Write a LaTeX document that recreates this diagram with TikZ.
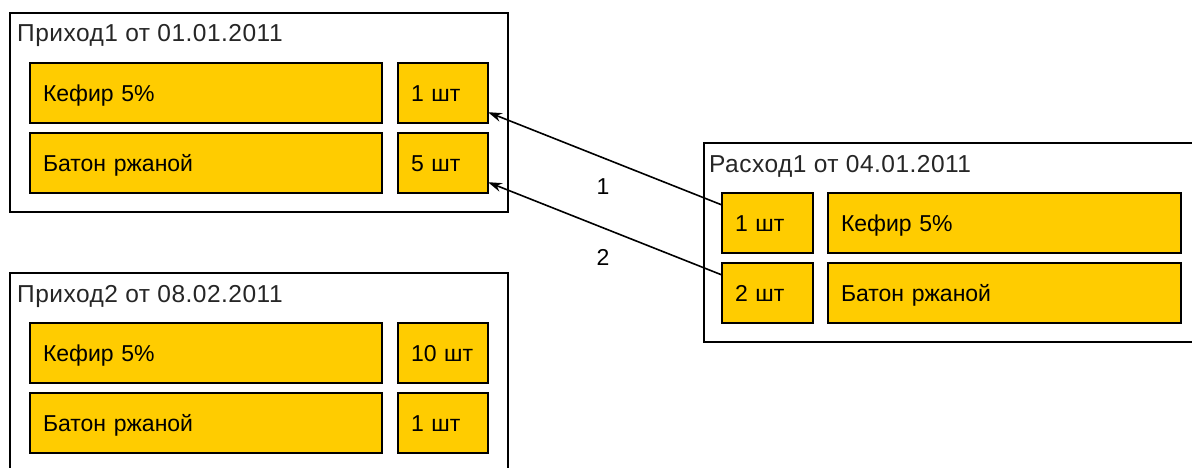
\documentclass[tikz,border=0pt]{standalone}
\usepackage{fontspec}
\setmainfont{Liberation Sans}
\newfontfamily\titlefont[LetterSpace=2]{Liberation Sans}
\usetikzlibrary{arrows.meta,calc}
\definecolor{itemyellow}{RGB}{255,204,0}
\begin{document}
\begin{tikzpicture}[x=1pt,y=-1pt,
  frame/.style={draw=black,line width=1.6pt,fill=white,rectangle,anchor=north west,inner sep=0pt,outer sep=0pt},
  title/.style={anchor=base west,inner sep=0pt,font=\titlefont\fontsize{24.5}{29}\selectfont,text=black!85},
  item/.style={draw=black,line width=1.2pt,fill=itemyellow,rectangle,anchor=north west,
    inner xsep=13pt,inner ysep=0pt,outer sep=0pt,minimum height=60pt,
    text height=16.5pt,text depth=0pt,align=left,font=\fontsize{23}{28}\selectfont},
  wide/.style={item,text width=326pt},
  qty/.style={item,text width=64pt},
  arr/.style={line width=1.6pt,-{Stealth[length=14pt,width=9pt]}},
  lbl/.style={inner sep=0pt,font=\fontsize{23}{28}\selectfont}]
\useasboundingbox (0,0) rectangle (1192,468);
\clip (0,0) rectangle (1192,468);
\fill[white] (0,0) rectangle (1192,468);
% Prihod 1
\node[frame,minimum width=498pt,minimum height=199pt] (p1) at (10,13) {};
\node[title] (p1t) at (17,42) {Приход1 от 01.01.2011};
\node[wide] (p1k) at (30,63) {Кефир 5\%};
\node[qty] (p1kq) at (398,63) {1 шт};
\node[wide] (p1b) at (30,133) {Батон ржаной};
\node[qty] (p1bq) at (398,133) {5 шт};
% Prihod 2
\node[frame,minimum width=498pt,minimum height=220pt] (p2) at (10,273) {};
\node[title] (p2t) at (17,302) {Приход2 от 08.02.2011};
\node[wide] (p2k) at (30,323) {Кефир 5\%};
\node[qty] (p2kq) at (398,323) {10 шт};
\node[wide] (p2b) at (30,393) {Батон ржаной};
\node[qty] (p2bq) at (398,393) {1 шт};
% Rashod 1
\node[frame,minimum width=520pt,minimum height=199pt] (r1) at (704,143) {};
\node[title] (r1t) at (709,172) {Расход1 от 04.01.2011};
\node[item,text width=65pt] (r1kq) at (722,193) {1 шт};
\node[item,text width=327pt] (r1k) at (828,193) {Кефир 5\%};
\node[item,text width=65pt] (r1bq) at (722,263) {2 шт};
\node[item,text width=327pt] (r1b) at (828,263) {Батон ржаной};
% arrows
\draw[arr] ($(r1kq.north west)!0.2!(r1kq.south west)$) -- ($(p1kq.north east)!0.82!(p1kq.south east)$);
\draw[arr] ($(r1bq.north west)!0.2!(r1bq.south west)$) -- ($(p1bq.north east)!0.82!(p1bq.south east)$);
\node[lbl] (l1) at (603,187) {1};
\node[lbl] (l2) at (603,257) {2};
\end{tikzpicture}
\end{document}
